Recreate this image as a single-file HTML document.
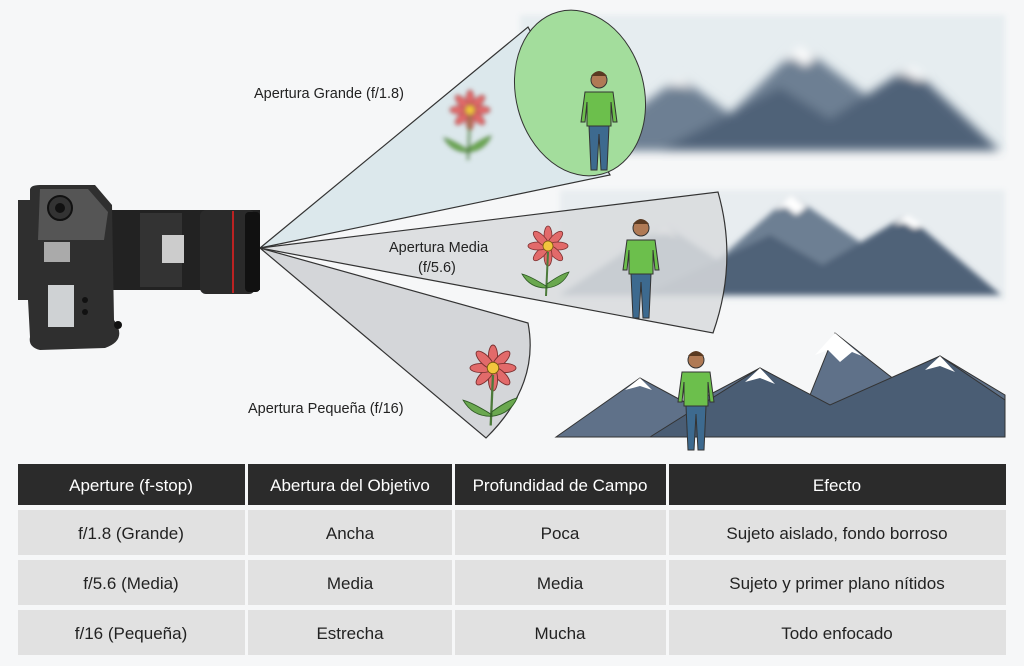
<!DOCTYPE html>
<html><head><meta charset="utf-8"><style>
body{margin:0;width:1024px;height:666px;background:#f6f7f8;overflow:hidden;font-family:"Liberation Sans",sans-serif}
svg{position:absolute;left:0;top:0}
</style></head><body>
<svg width="1024" height="666" viewBox="0 0 1024 666" xmlns="http://www.w3.org/2000/svg">
<defs>
<filter id="b6"><feGaussianBlur stdDeviation="5"/></filter>
<filter id="b3"><feGaussianBlur stdDeviation="3"/></filter>
<filter id="b2"><feGaussianBlur stdDeviation="2"/></filter>
<g id="person">
 <circle cx="0" cy="-62" r="8" fill="#b07a55" stroke="#333" stroke-width="1"/>
 <path d="M-8,-66 q8,-10 16,0 z" fill="#5a3a22"/>
 <path d="M-14,-50 h28 l4,30 h-4 l-2,-20 v24 h-24 v-24 l-2,20 h-4 z" fill="#6cbf4c" stroke="#333" stroke-width="1"/>
 <path d="M-10,-16 h20 l-2,44 h-6 l-2,-36 l-2,36 h-6 z" fill="#3d6a8f" stroke="#333" stroke-width="1"/>
</g>
<g id="flower">
 <g fill="#e26a6a" stroke="#7a3030" stroke-width="0.8">
  <ellipse cx="0" cy="-10" rx="4" ry="10"/><ellipse cx="0" cy="-10" rx="4" ry="10" transform="rotate(45)"/>
  <ellipse cx="0" cy="-10" rx="4" ry="10" transform="rotate(90)"/><ellipse cx="0" cy="-10" rx="4" ry="10" transform="rotate(135)"/>
  <ellipse cx="0" cy="-10" rx="4" ry="10" transform="rotate(180)"/><ellipse cx="0" cy="-10" rx="4" ry="10" transform="rotate(225)"/>
  <ellipse cx="0" cy="-10" rx="4" ry="10" transform="rotate(270)"/><ellipse cx="0" cy="-10" rx="4" ry="10" transform="rotate(315)"/>
 </g>
 <circle r="5" fill="#f2c53d" stroke="#7a5a10" stroke-width="0.8"/>
 <path d="M0,6 L-2,50" stroke="#4c7a3a" stroke-width="2" fill="none"/>
 <path d="M-2,40 q-16,-10 -24,-12 q8,14 24,14z M-1,38 q14,-10 22,-12 q-6,14 -22,16z" fill="#6aa84f" stroke="#2f5a25" stroke-width="0.8"/>
</g>
<g id="mtn">
 <polygon points="0,110 100,40 150,75 220,10 290,60 330,40 420,110" fill="#6d7f93"/>
 <polygon points="80,110 200,50 250,80 330,30 420,110" fill="#4f6278"/>
 <polygon points="220,10 205,25 215,22 225,30 235,22 240,26" fill="#fff"/>
 <polygon points="330,30 318,40 328,38 338,44 345,40" fill="#fff"/>
 <polygon points="100,40 88,50 100,48 112,52" fill="#fff"/>
</g>
</defs>
<rect x="520" y="15" width="485" height="135" fill="#e6edf0" filter="url(#b3)"/>
<rect x="560" y="190" width="445" height="110" fill="#e8edf0" filter="url(#b3)"/>
<g filter="url(#b6)"><use href="#mtn" transform="translate(580,35) scale(1.0,1.05)"/></g>
<g filter="url(#b3)"><use href="#mtn" transform="translate(560,185) scale(1.05,1)"/></g>
<g stroke="#333" stroke-width="1">
 <polygon points="556,437 640,378 690,405 760,368 810,395 835,333 895,380 940,356 1005,395 1005,437" fill="#5f7189"/>
 <polygon points="650,437 760,368 830,405 940,356 1005,400 1005,437" fill="#4a5d74"/>
</g>
<polygon points="835,333 815,355 828,350 840,362 852,352 862,356" fill="#fff"/>
<polygon points="760,368 745,382 760,378 775,384" fill="#fff"/>
<polygon points="940,356 925,370 940,366 955,372" fill="#fff"/>
<polygon points="640,378 625,390 640,386 652,390" fill="#fff"/>
<polygon points="260,248 528,27 610,175" fill="#dce8ec" stroke="#333" stroke-width="1.2"/>
<path d="M260,248 L718,192 Q738,262 713,333 Z" fill="#d8dadd" fill-opacity="0.85" stroke="#333" stroke-width="1.2"/>
<path d="M260,248 L528,323 Q540,385 486,438 Z" fill="#d4d6d9" stroke="#333" stroke-width="1.2"/>
<ellipse cx="580" cy="93" rx="64" ry="84" transform="rotate(-15 580 93)" fill="#a3dd9c" stroke="#333" stroke-width="1"/>
<g filter="url(#b2)"><use href="#flower" transform="translate(470,110)"/></g>
<use href="#person" transform="translate(599,142)"/>
<use href="#flower" transform="translate(548,246)"/>
<use href="#person" transform="translate(641,290)"/>
<use href="#flower" transform="translate(493,368) scale(1.15)"/>
<use href="#person" transform="translate(696,422)"/>
<g font-size="14.5" fill="#222">
<text x="254" y="98">Apertura Grande (f/1.8)</text>
<text x="389" y="252">Apertura Media</text>
<text x="418" y="272">(f/5.6)</text>
<text x="248" y="413">Apertura Pequeña (f/16)</text>
</g>
<rect x="110" y="210" width="150" height="80" fill="#222"/>
<rect x="140" y="213" width="42" height="74" fill="#333"/>
<rect x="162" y="235" width="22" height="28" fill="#ccc"/>
<rect x="200" y="210" width="55" height="84" rx="6" fill="#2a2a2a"/>
<line x1="233" y1="211" x2="233" y2="293" stroke="#b22" stroke-width="2"/>
<rect x="245" y="212" width="15" height="80" rx="4" fill="#111"/>
<path d="M30,190 Q30,185 40,185 L95,185 L112,205 L114,320 Q128,340 105,348 L40,350 Q28,347 30,337 L28,300 L18,300 L18,200 L30,200 Z" fill="#2f2f2f"/>
<path d="M40,189 L88,189 L108,212 L104,240 L38,240 Z" fill="#555"/>
<circle cx="60" cy="208" r="12" fill="#333" stroke="#111" stroke-width="2"/>
<circle cx="60" cy="208" r="5" fill="#111"/>
<rect x="44" y="242" width="26" height="20" fill="#aaa"/>
<rect x="48" y="285" width="26" height="42" fill="#cfd2d4"/>
<circle cx="85" cy="300" r="3" fill="#111"/><circle cx="85" cy="312" r="3" fill="#111"/><circle cx="118" cy="325" r="4" fill="#111"/>
<g font-size="17">
<g fill="#2b2b2b">
<rect x="18" y="464" width="227" height="41"/><rect x="248" y="464" width="204" height="41"/>
<rect x="455" y="464" width="211" height="41"/><rect x="669" y="464" width="337" height="41"/>
</g>
<g fill="#e1e1e1">
<rect x="18" y="510" width="227" height="45"/><rect x="248" y="510" width="204" height="45"/><rect x="455" y="510" width="211" height="45"/><rect x="669" y="510" width="337" height="45"/>
<rect x="18" y="560" width="227" height="45"/><rect x="248" y="560" width="204" height="45"/><rect x="455" y="560" width="211" height="45"/><rect x="669" y="560" width="337" height="45"/>
<rect x="18" y="610" width="227" height="45"/><rect x="248" y="610" width="204" height="45"/><rect x="455" y="610" width="211" height="45"/><rect x="669" y="610" width="337" height="45"/>
</g>
<g text-anchor="middle" fill="#fff">
<text x="131" y="491">Aperture (f-stop)</text><text x="350" y="491">Abertura del Objetivo</text>
<text x="560" y="491">Profundidad de Campo</text><text x="837" y="491">Efecto</text>
</g>
<g text-anchor="middle" fill="#222">
<text x="131" y="539">f/1.8 (Grande)</text><text x="350" y="539">Ancha</text><text x="560" y="539">Poca</text><text x="837" y="539">Sujeto aislado, fondo borroso</text>
<text x="131" y="589">f/5.6 (Media)</text><text x="350" y="589">Media</text><text x="560" y="589">Media</text><text x="837" y="589">Sujeto y primer plano nítidos</text>
<text x="131" y="639">f/16 (Pequeña)</text><text x="350" y="639">Estrecha</text><text x="560" y="639">Mucha</text><text x="837" y="639">Todo enfocado</text>
</g>
</g>
</svg>
</body></html>
